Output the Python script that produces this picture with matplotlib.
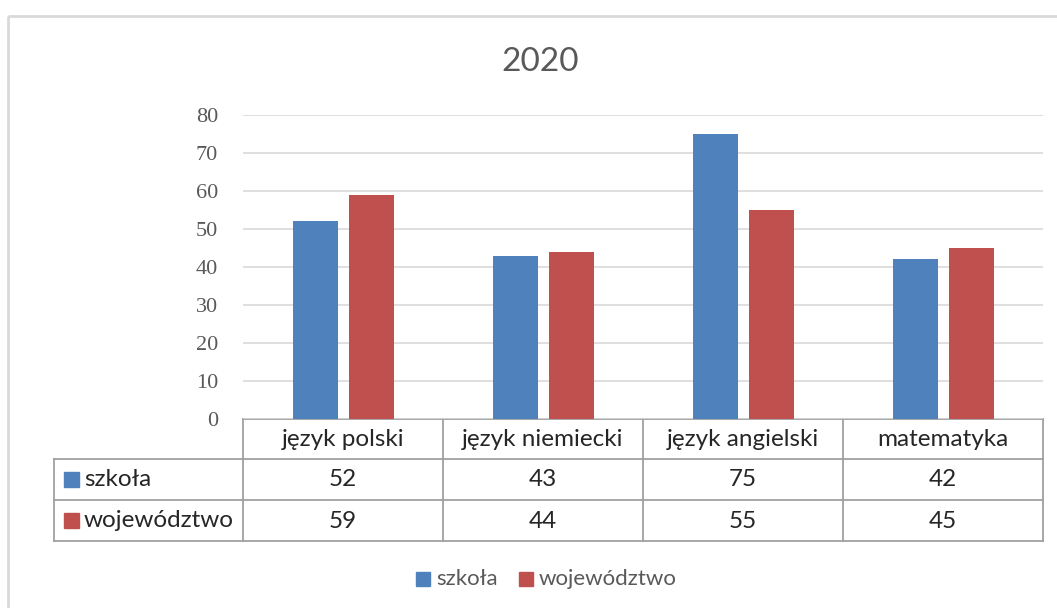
import matplotlib.pyplot as plt
from matplotlib.patches import Rectangle

categories = ['język polski', 'język niemiecki', 'język angielski', 'matematyka']
series_names = ['szkoła', 'województwo']
szkola = [52, 43, 75, 42]
wojewodztwo = [59, 44, 55, 45]
yticks = [0, 10, 20, 30, 40, 50, 60, 70, 80]
title = '2020'

colors = ['#4f81bd', '#c0504d']
W, H = 1057, 608

fig = plt.figure(figsize=(W / 100, H / 100), dpi=100)

# overlay in pixel coordinates for frame, table and legend
ov = fig.add_axes([0, 0, 1, 1])
ov.set_xlim(0, W)
ov.set_ylim(H, 0)
ov.axis('off')

# plot area: x 243..1043, y 115 (80) .. 419 (0)
ax = fig.add_axes([243 / W, (H - 419) / H, 800 / W, 304 / H])
ax.set_xlim(-0.5, len(categories) - 0.5)
ax.set_ylim(0, 80)
ax.set_yticks(yticks)
ax.tick_params(axis='y', length=0, pad=18, labelsize=16, labelcolor='#595959')
for lab in ax.get_yticklabels():
    lab.set_family('Liberation Serif')
ax.set_xticks([])
for s in ax.spines.values():
    s.set_visible(False)
ax.grid(axis='y', color='#d9d9d9', lw=1.2)
ax.set_axisbelow(True)
ax.patch.set_alpha(0)

x = list(range(len(categories)))
bw = 0.225
ax.bar([i - 0.14 for i in x], szkola, width=bw, color=colors[0], zorder=3)
ax.bar([i + 0.14 for i in x], wojewodztwo, width=bw, color=colors[1], zorder=3)

# chart frame
ov.add_patch(Rectangle((8, 16), 1200, 800, fill=False, ec='#d9d9d9', lw=2))

ov.text(540, 62, title, ha='center', va='center', fontsize=24,
        color='#595959', family='Lato')

# data table
lc = '#a0a0a0'
tlw = 1.3
col_x = [243, 443, 643, 843, 1043]
row_y = [419, 459, 500, 541]
ov.plot([243, 1043], [419, 419], color=lc, lw=tlw)
for y in row_y[1:]:
    ov.plot([54, 1043], [y, y], color=lc, lw=tlw)
for xc in col_x:
    ov.plot([xc, xc], [419, 541], color=lc, lw=tlw)
ov.plot([54, 54], [459, 541], color=lc, lw=tlw)

tfont = dict(fontsize=17.5, color='#262626', family='Lato', ha='center', va='center')
for i, c in enumerate(categories):
    cx = (col_x[i] + col_x[i + 1]) / 2
    ov.text(cx, 439, c, **tfont)
    ov.text(cx, 480, str(szkola[i]), **tfont)
    ov.text(cx, 521, str(wojewodztwo[i]), **tfont)

for k, name in enumerate(series_names):
    cy = (row_y[k + 1] + row_y[k + 2]) / 2
    ov.add_patch(Rectangle((64, cy - 7.5), 15, 15, color=colors[k]))
    ov.text(84, cy, name, fontsize=17.5, color='#262626', family='Lato',
            ha='left', va='center')

# legend below
lx = [416, 519]
for k, name in enumerate(series_names):
    ov.add_patch(Rectangle((lx[k], 572), 14, 14, color=colors[k]))
    ov.text(lx[k] + 20, 579, name, fontsize=16, color='#595959', family='Lato',
            ha='left', va='center')

fig.savefig('out.png', dpi=100)
